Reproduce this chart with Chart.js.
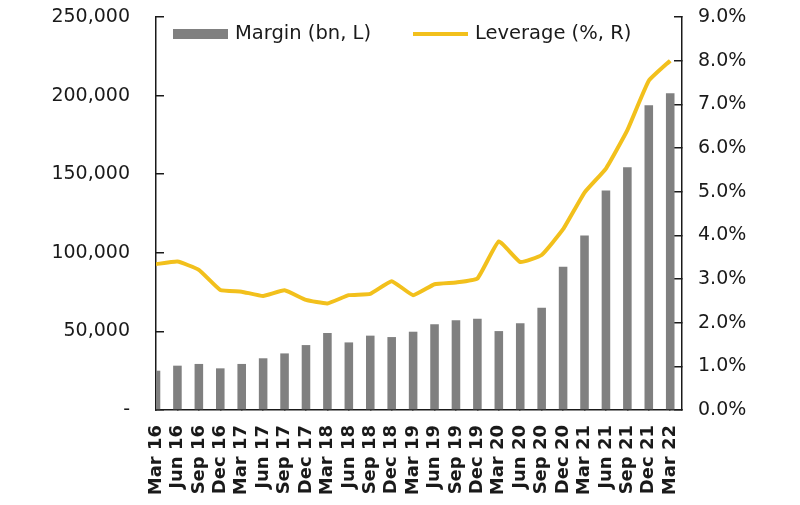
<!DOCTYPE html>
<html>
<head>
<meta charset="utf-8">
<script src="https://cdn.jsdelivr.net/npm/chart.js@4"></script>
<style>
  body { margin: 0; background: #fff; }
  #wrap { width: 800px; height: 505px; }
</style>
</head>
<body>
<div id="wrap"><canvas id="chart"></canvas></div>
<script>
// quarter labels
const quarters = ['Mar 16', 'Jun 16', 'Sep 16', 'Dec 16', 'Mar 17', 'Jun 17', 'Sep 17', 'Dec 17',
  'Mar 18', 'Jun 18', 'Sep 18', 'Dec 18', 'Mar 19', 'Jun 19', 'Sep 19', 'Dec 19',
  'Mar 20', 'Jun 20', 'Sep 20', 'Dec 20', 'Mar 21', 'Jun 21', 'Sep 21', 'Dec 21', 'Mar 22'];
// margin, bn (left axis)
const margin = [25000, 28200, 29300, 26500, 29300, 32900, 36000, 41300,
  49000, 43000, 47300, 46400, 49800, 54600, 57100, 58000,
  50200, 55200, 65000, 91200, 111000, 139700, 154500, 193800, 201500];
// leverage, % (right axis)
const leverage = [3.34, 3.40, 3.21, 2.75, 2.71, 2.61, 2.74, 2.52,
  2.44, 2.63, 2.66, 2.95, 2.63, 2.88, 2.92, 3.01,
  3.86, 3.39, 3.55, 4.14, 4.98, 5.53, 6.41, 7.54, 8.00];

const leftTicks = [0, 50000, 100000, 150000, 200000, 250000];

const FONT = 'DejaVu Sans';
const TXT = '#1a1a1a';
const AXIS = '#1a1a1a';

// legend drawn inside the plot, like the original
const insideLegend = {
  id: 'insideLegend',
  afterDraw(chart) {
    const ctx = chart.ctx;
    const line = chart.data.datasets[0];
    const bar = chart.data.datasets[1];
    const y = 34;
    ctx.save();
    ctx.font = '19.5px "' + FONT + '"';
    ctx.textBaseline = 'middle';
    ctx.textAlign = 'left';
    ctx.fillStyle = bar.backgroundColor;
    ctx.fillRect(173, y - 5, 55, 10);
    ctx.fillStyle = TXT;
    ctx.fillText(bar.label, 235, y);
    ctx.strokeStyle = line.borderColor;
    ctx.lineWidth = 4;
    ctx.beginPath();
    ctx.moveTo(413, y);
    ctx.lineTo(468, y);
    ctx.stroke();
    ctx.fillText(line.label, 475, y);
    ctx.restore();
  }
};

// big tick padding would otherwise push the plot top down
function fixY(width) {
  return (s) => {
    s.width = width;
    s.paddingTop = 10;
    s.paddingBottom = 10;
  };
}

let chart = new Chart(document.querySelector('#chart'), {
  type: 'bar',
  data: {
    datasets: [
      {
        type: 'line',
        label: 'Leverage (%, R)',
        data: leverage.map((v, i) => ({x: i, y: v})),
        yAxisID: 'y1',
        borderColor: '#F2C01C',
        borderWidth: 4,
        pointRadius: 0,
        tension: 0.12,
        order: 0
      },
      {
        label: 'Margin (bn, L)',
        data: margin.map((v, i) => ({x: i, y: v})),
        yAxisID: 'y',
        backgroundColor: '#808080',
        categoryPercentage: 1,
        barPercentage: 0.4,
        clip: 0,
        order: 1
      }
    ]
  },
  options: {
    responsive: true,
    maintainAspectRatio: false,
    animation: false,
    layout: { padding: { top: 17, right: 0, bottom: 0, left: 0 } },
    plugins: {
      legend: { display: false },
      tooltip: { enabled: false }
    },
    scales: {
      x: {
        type: 'linear',
        min: 0,
        max: 24.55,
        offset: false,
        afterFit: (s) => { s.height = 95; },
        border: { display: true, color: AXIS, width: 1.5 },
        grid: { offset: false, drawOnChartArea: false, drawTicks: true, tickLength: -8, color: AXIS, lineWidth: 1.5 },
        ticks: {
          stepSize: 1,
          includeBounds: false,
          autoSkip: false,
          minRotation: 90,
          maxRotation: 90,
          padding: 23,
          color: TXT,
          font: { family: FONT, size: 18, weight: 'bold' },
          callback: (v) => Number.isInteger(v) ? quarters[v] : ''
        }
      },
      y: {
        position: 'left',
        min: 0,
        max: 250000,
        afterFit: fixY(156),
        afterBuildTicks: (s) => { s.ticks = leftTicks.map(v => ({value: v})); },
        border: { display: true, color: AXIS, width: 1.5 },
        grid: { drawOnChartArea: false, drawTicks: true, tickLength: -8, color: AXIS, lineWidth: 1.5 },
        ticks: {
          padding: 34,
          color: TXT,
          font: { family: FONT, size: 19 },
          callback: (v) => v === 0 ? '-' : v.toLocaleString('en-US')
        }
      },
      y1: {
        position: 'right',
        min: 0,
        max: 9,
        afterFit: fixY(118),
        border: { display: true, color: AXIS, width: 1.5 },
        grid: { drawOnChartArea: false, drawTicks: true, tickLength: -8, color: AXIS, lineWidth: 1.5 },
        ticks: {
          stepSize: 1,
          padding: 24,
          color: TXT,
          font: { family: FONT, size: 19 },
          callback: (v) => v.toFixed(1) + '%'
        }
      }
    }
  },
  plugins: [insideLegend]
});
</script>
</body>
</html>
